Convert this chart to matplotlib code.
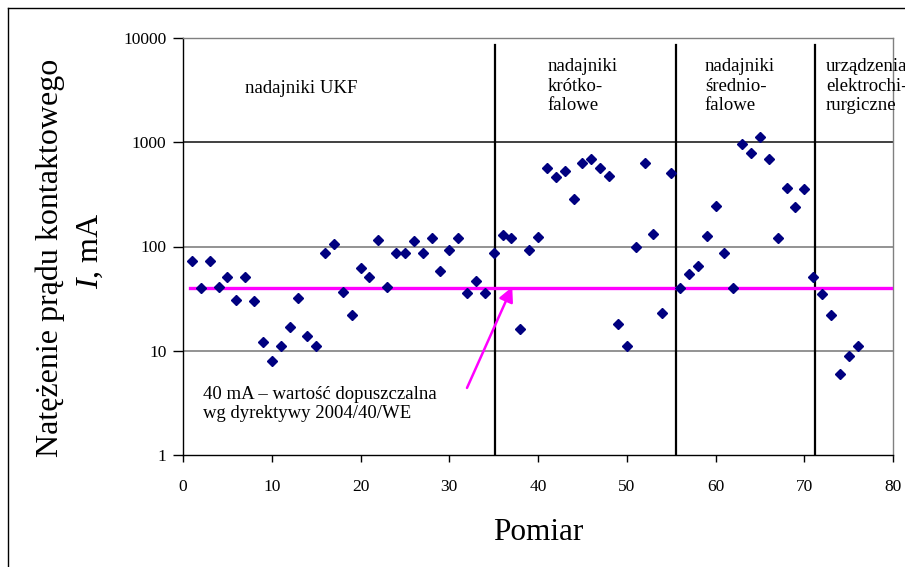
import numpy as np
import matplotlib
matplotlib.use("Agg")
import matplotlib.pyplot as plt
from matplotlib.lines import Line2D

plt.rcParams['font.family'] = ['Liberation Serif', 'DejaVu Serif']
plt.rcParams['mathtext.fontset'] = 'custom'
plt.rcParams['mathtext.rm'] = 'Liberation Serif'
plt.rcParams['mathtext.it'] = 'Liberation Serif:italic'

######
# data
######
pomiar = list(range(1, 77))
prad_mA = [73, 40, 73, 41, 51, 31, 51, 30, 12, 8,
           11, 17, 32, 14, 11, 87, 105, 37, 22, 62,
           51, 115, 41, 86, 86, 112, 86, 120, 58, 92,
           120, 36, 47, 36, 86, 130, 120, 16, 92, 124,
           566, 464, 530, 283, 628, 687, 566, 478, 18, 11,
           98, 628, 132, 23, 503, 40, 55, 65, 125, 246,
           86, 40, 963, 789, 1135, 687, 120, 367, 239, 356,
           51, 35, 22, 6, 9, 11]

limit_mA = 40
granice = [35.2, 55.6, 71.2]  # group separators
grupy = ['nadajniki UKF', 'nadajniki\nkrótko-\nfalowe',
         'nadajniki\nśrednio-\nfalowe', 'urządzenia\nelektrochi-\nrurgiczne']
grupy_x = [7.0, 41.1, 58.8, 72.45]
x_ticks = [0, 10, 20, 30, 40, 50, 60, 70, 80]
y_ticks = [1, 10, 100, 1000, 10000]

fig = plt.figure(figsize=(9.05, 5.67), dpi=100)
ax = fig.add_axes([183/905, 1 - 455/567, (893-183)/905, (455-38)/567])

ax.set_yscale('log')
ax.set_xlim(0, 80)
ax.set_ylim(1, 10000)

# grid lines
for g in [10, 100]:
    ax.axhline(g, color='#808080', lw=1.2, zorder=1)
ax.axhline(1000, color='#202020', lw=1.2, zorder=1)

# group separators
for b in granice:
    ax.plot([b, b], [1, 8500], color='black', lw=1.6, zorder=2)

# limit line
ax.plot([0.8, 80], [limit_mA, limit_mA], color='#FF00FF', lw=2.4, zorder=3)

ax.plot(pomiar, prad_mA, linestyle='none', marker='D', ms=5.3,
        color='#000080', zorder=4)

# texts
ax.text(grupy_x[0], 3310, grupy[0], fontsize=13.5, ha='left', va='center')
for lab, gx in zip(grupy[1:], grupy_x[1:]):
    ax.text(gx, 6400, lab, fontsize=13.5, ha='left', va='top',
            linespacing=1.18, clip_on=False)

ax.text(2.25, 3.08, '40 mA – wartość dopuszczalna\nwg dyrektywy 2004/40/WE',
        fontsize=13.5, ha='left', va='center', linespacing=1.1)
ax.annotate('', xy=(37.1, 41), xytext=(32.0, 4.4),
            arrowprops=dict(arrowstyle='-|>', color='#FF00FF', lw=1.8,
                            mutation_scale=22, shrinkA=0, shrinkB=0))

# axes styling
ax.spines['left'].set_color('black')
ax.spines['bottom'].set_color('black')
ax.spines['top'].set_color('#808080')
ax.spines['right'].set_color('#808080')
for s in ax.spines.values():
    s.set_linewidth(1.0)

ax.set_xticks(x_ticks)
ax.set_xticklabels([str(t) for t in x_ticks])
ax.set_yticks(y_ticks)
ax.set_yticklabels([str(t) for t in y_ticks])
ax.yaxis.set_minor_locator(matplotlib.ticker.NullLocator())
ax.tick_params(axis='x', direction='out', length=5, width=1, pad=12, labelsize=12.5)
ax.tick_params(axis='y', direction='out', length=7, width=1, pad=5, labelsize=12.5)

fig.text(538/905, 1 - 532/567, 'Pomiar', fontsize=22.5, ha='center', va='center')
fig.text(50/905, 1 - 258/567, 'Natężenie prądu kontaktowego', fontsize=23,
         rotation=90, ha='center', va='center')
fig.text(90/905, 1 - 251/567, '$I$, mA', fontsize=23,
         rotation=90, ha='center', va='center')

# outer frame
fig.add_artist(Line2D([8/905, 8/905], [0, 1 - 8/567], color='black', lw=1.0))
fig.add_artist(Line2D([8/905, 1], [1 - 8/567, 1 - 8/567], color='black', lw=1.0))

fig.savefig('out.png', dpi=100)
